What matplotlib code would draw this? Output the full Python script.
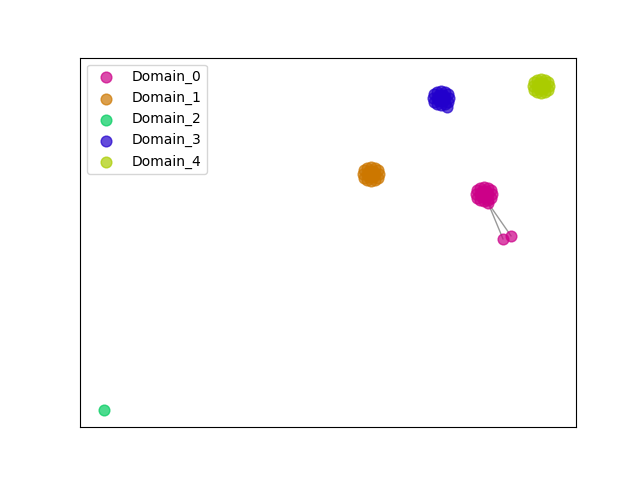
import matplotlib
matplotlib.use("Agg")
import matplotlib.pyplot as plt

domains = ["Domain_0", "Domain_1", "Domain_2", "Domain_3", "Domain_4"]
colors = ["#cc0088", "#cc7700", "#00cc5f", "#2200cc", "#aacc00"]

# embedding coordinates per domain
xs = [
    [484, 488, 486, 482, 480, 482, 486, 492, 491, 488, 484, 480, 477, 476, 477, 480, 484, 488, 491,
     488, 503, 511],
    [371, 375, 373, 369, 367, 369, 373, 379, 378, 375, 371, 367, 364, 363, 364, 367, 371, 375, 378],
    [104],
    [441, 445, 443, 439, 437, 439, 443, 449, 448, 445, 441, 437, 434, 433, 434, 437, 441, 445, 448,
     447],
    [541, 545, 543, 539, 537, 539, 543, 549, 548, 545, 541, 537, 534, 533, 534, 537, 541, 545, 548],
]
ys = [
    [286, 286, 289, 289, 286, 283, 283, 286, 290, 292, 293, 292, 290, 286, 282, 280, 279, 280, 282,
     277, 241, 244],
    [306, 306, 309, 309, 306, 303, 303, 306, 310, 312, 313, 312, 310, 306, 302, 300, 299, 300, 302],
    [70],
    [382, 382, 385, 385, 382, 379, 379, 382, 386, 388, 389, 388, 386, 382, 378, 376, 375, 376, 378,
     373],
    [394, 394, 397, 397, 394, 391, 391, 394, 398, 400, 401, 400, 398, 394, 390, 388, 387, 388, 390],
]

# links between matched points
links = [((488, 277), (503, 241)), ((488, 277), (511, 244))]

fig, ax = plt.subplots(figsize=(6.4, 4.8), dpi=100)
for (p, q) in links:
    ax.plot([p[0], q[0]], [p[1], q[1]], color="gray", linewidth=1, alpha=0.8, zorder=1)
for name, c, x, y in zip(domains, colors, xs, ys):
    ax.scatter(x, y, s=60, color=c, alpha=0.7, label=name, zorder=2)

ax.set_xlim(80, 576)
ax.set_ylim(53, 422)
ax.set_xticks([])
ax.set_yticks([])
ax.legend(loc="upper left")
fig.savefig("out.png")
